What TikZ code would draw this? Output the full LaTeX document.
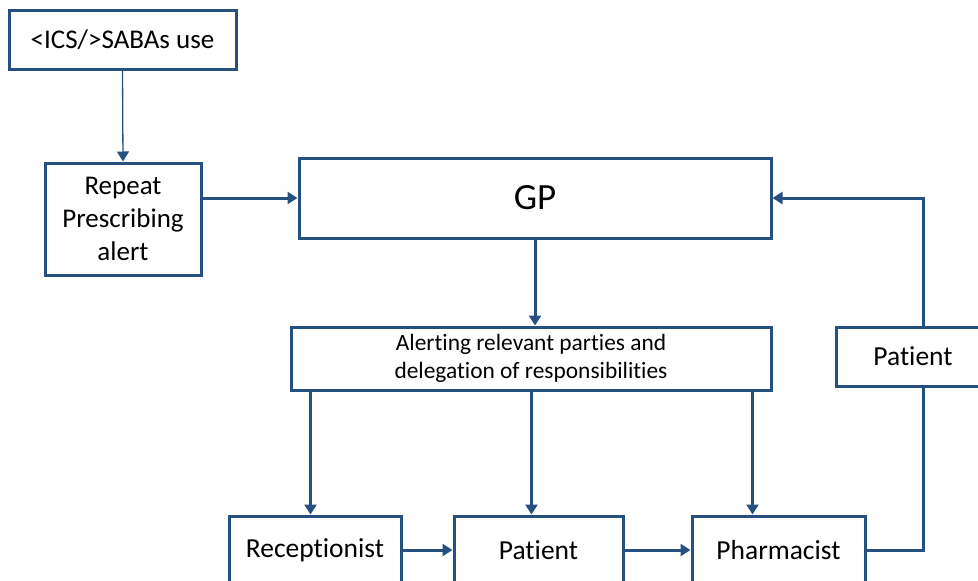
\documentclass[tikz,border=0pt]{standalone}
\usepackage{fontspec}
\setmainfont{Carlito}[Ligatures=NoCommon]
\usetikzlibrary{arrows.meta,calc}
\definecolor{flowblue}{RGB}{38,80,128}
\tikzset{
  x=1pt, y=-1pt,
  box/.style={draw=flowblue, line width=3pt, fill=white, inner sep=0pt,
    align=center, font=\fontsize{27}{33}\selectfont},
  arr/.style={draw=flowblue, line width=3pt,
    -{Triangle[length=10pt,width=12pt]}},
  thinarr/.style={draw=flowblue, line width=1.3pt,
    -{Triangle[length=10pt,width=12pt]}},
  link/.style={draw=flowblue, line width=3pt},
}
\begin{document}
\begin{tikzpicture}
\useasboundingbox (0,0) rectangle (978,581);
\clip (0,0) rectangle (978,581);

% boxes
\node[box, minimum width=227pt, minimum height=59pt] (ics) at (122.5,39.5) {<ICS/>SABAs use};
\node[box, minimum width=156pt, minimum height=112pt] (rep) at (123,219) {Repeat\\Prescribing\\alert};
\node[box, minimum width=472pt, minimum height=80pt, font=\fontsize{37}{42}\selectfont] (gp) at (535,198) {GP};
\node[box, minimum width=480pt, minimum height=63pt, font=\fontsize{23.4}{28}\selectfont] (alert) at (531,358.5) {Alerting relevant parties and\\delegation of responsibilities};
\node[box, minimum width=154pt, minimum height=59pt, font=\fontsize{27.5}{33}\selectfont] (pat2) at (913,356.5) {Patient};
\node[box, minimum width=172pt, minimum height=68pt, font=\fontsize{27.5}{33}\selectfont] (recep) at (315,550) {Receptionist};
\node[box, minimum width=169pt, minimum height=68pt, font=\fontsize{27.5}{33}\selectfont] (pat1) at (538.5,550) {Patient};
\node[box, minimum width=173pt, minimum height=68pt, font=\fontsize{27.5}{33}\selectfont] (pharm) at (778.5,550) {Pharmacist};

% tap points on the alert box and the feedback column
\coordinate (t1) at ($(alert.south west)+(21,0)$);
\coordinate (t2) at ($(alert.south west)+(242,0)$);
\coordinate (t3) at ($(alert.south west)+(463,0)$);
\coordinate (fb) at ($(pat2.south west)+(89,0)$);

% connectors
\draw[thinarr] (ics.south) -- (rep.north);
\draw[arr] (rep.east |- gp.west) -- (gp.west);
\draw[arr] (gp.south) -- (gp.south |- alert.north);
\draw[arr] (t1) -- (t1 |- recep.north);
\draw[arr] (t2) -- (t2 |- pat1.north);
\draw[arr] (t3) -- (t3 |- pharm.north);
\draw[arr] (recep.east) -- (pat1.west);
\draw[arr] (pat1.east) -- (pharm.west);
\draw[link] (pharm.east) -| (fb);
\draw[arr] (fb |- pat2.north) |- (gp.east);
\end{tikzpicture}
\end{document}
